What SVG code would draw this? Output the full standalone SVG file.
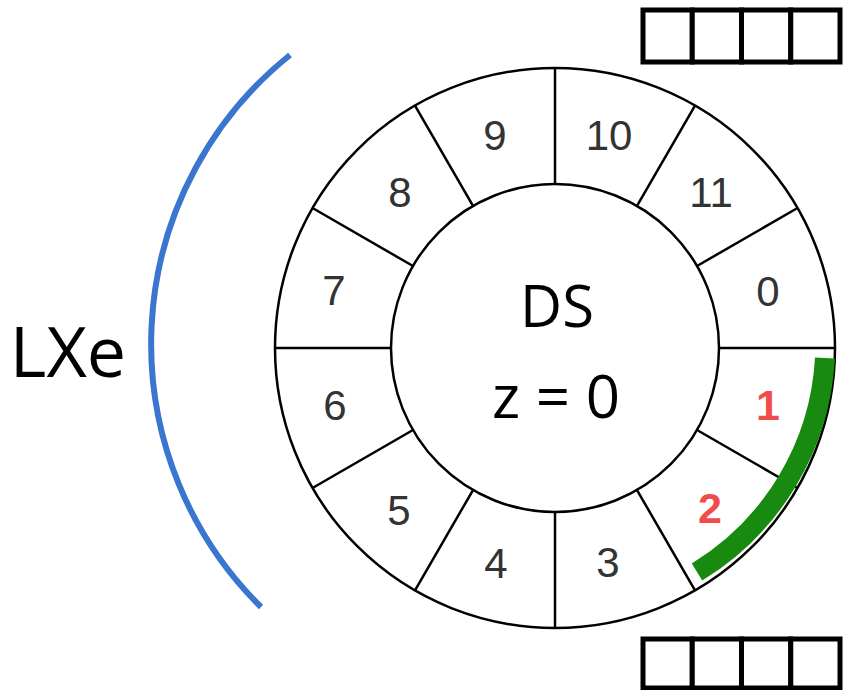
<svg xmlns="http://www.w3.org/2000/svg" width="849" height="690" viewBox="0 0 849 690">
<style>
.ring{fill:none;stroke:#000;stroke-width:2.5}
.div{stroke:#000;stroke-width:2.5}
.num{font-family:"Liberation Sans",Arial,sans-serif;font-size:42px;fill:#333;text-anchor:middle}
.red{font-family:"Liberation Sans",Arial,sans-serif;font-size:43px;font-weight:bold;fill:#f04c4c;text-anchor:middle}
.big{font-family:"Open Sans","Liberation Sans",sans-serif;fill:#000;text-anchor:middle}
.box{fill:#fff;stroke:#000;stroke-width:5}
</style>
<rect width="849" height="690" fill="#fff"/>
<g id="lxe-arc">
<path d="M 290 55 A 370 370 0 0 0 261 607" fill="none" stroke="#3a76d0" stroke-width="6" stroke-linecap="butt"/>
</g>
<g id="lxe-label">
<text class="big" x="68" y="377" font-size="70">LXe</text>
</g>
<g id="ring">
<circle class="ring" cx="555" cy="348" r="280"/>
<circle class="ring" cx="555" cy="348" r="164"/>
<g class="div">
<line x1="719" y1="348" x2="835" y2="348"/>
<line x1="719" y1="348" x2="835" y2="348" transform="rotate(30 555 348)"/>
<line x1="719" y1="348" x2="835" y2="348" transform="rotate(60 555 348)"/>
<line x1="719" y1="348" x2="835" y2="348" transform="rotate(90 555 348)"/>
<line x1="719" y1="348" x2="835" y2="348" transform="rotate(120 555 348)"/>
<line x1="719" y1="348" x2="835" y2="348" transform="rotate(150 555 348)"/>
<line x1="719" y1="348" x2="835" y2="348" transform="rotate(180 555 348)"/>
<line x1="719" y1="348" x2="835" y2="348" transform="rotate(210 555 348)"/>
<line x1="719" y1="348" x2="835" y2="348" transform="rotate(240 555 348)"/>
<line x1="719" y1="348" x2="835" y2="348" transform="rotate(270 555 348)"/>
<line x1="719" y1="348" x2="835" y2="348" transform="rotate(300 555 348)"/>
<line x1="719" y1="348" x2="835" y2="348" transform="rotate(330 555 348)"/>
</g>
</g>
<g id="segments">
<text class="num" x="768" y="306">0</text>
<text class="red" x="768" y="420">1</text>
<text class="red" x="710" y="523">2</text>
<text class="num" x="608" y="577">3</text>
<text class="num" x="496" y="578">4</text>
<text class="num" x="399" y="525">5</text>
<text class="num" x="335" y="420">6</text>
<text class="num" x="334" y="305">7</text>
<text class="num" x="400" y="207">8</text>
<text class="num" x="495" y="150">9</text>
<text class="num" x="609" y="150">10</text>
<text class="num" x="711" y="207">11</text>
</g>
<g id="ds-label">
<text class="big" x="557" y="327" font-size="58">DS</text>
<text class="big" x="556" y="418" font-size="60">z = 0</text>
</g>
<g id="connectors">
<path d="M 825 358 A 268 268 0 0 1 697 572" fill="none" stroke="#178a0f" stroke-width="20" stroke-linecap="butt"/>
</g>
<g id="top-boxes">
<rect class="box" x="643" y="10" width="49.25" height="52"/>
<rect class="box" x="692.25" y="10" width="49.25" height="52"/>
<rect class="box" x="741.5" y="10" width="49.25" height="52"/>
<rect class="box" x="790.75" y="10" width="49.25" height="52"/>
</g>
<g id="bottom-boxes">
<rect class="box" x="643" y="639" width="49.25" height="49"/>
<rect class="box" x="692.25" y="639" width="49.25" height="49"/>
<rect class="box" x="741.5" y="639" width="49.25" height="49"/>
<rect class="box" x="790.75" y="639" width="49.25" height="49"/>
</g>
</svg>
